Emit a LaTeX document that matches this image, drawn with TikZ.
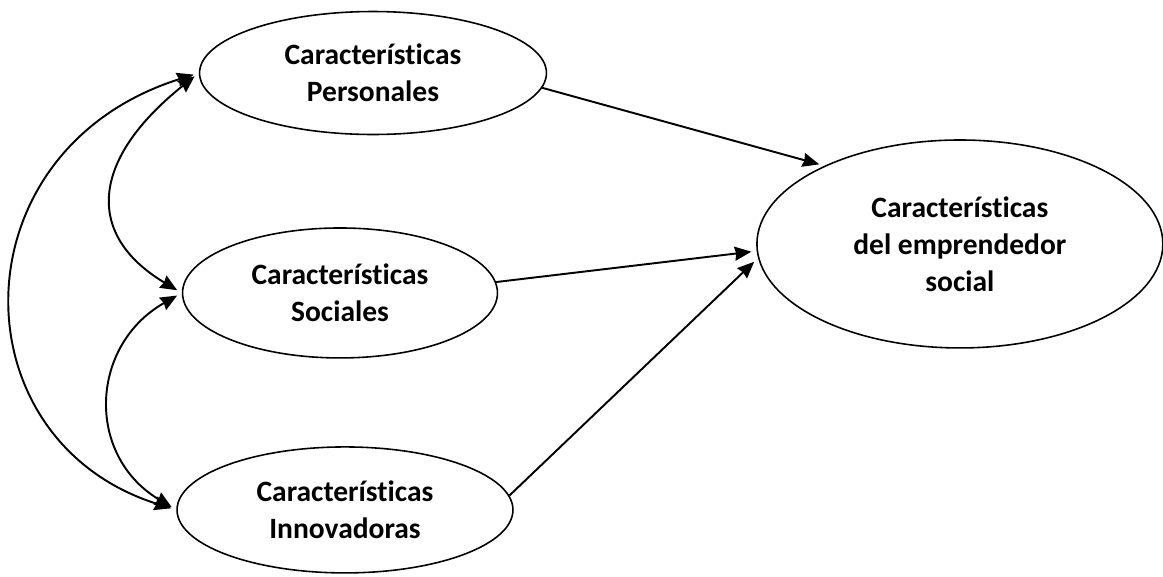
\documentclass[tikz,border=0pt]{standalone}
\usepackage{fontspec}
\setmainfont{Carlito}[Ligatures=NoCommon]
\usetikzlibrary{shapes.geometric, arrows.meta, positioning}
\tikzstyle{trait} = [ellipse, draw=black, line width=0.9pt, inner sep=0pt, align=center, font=\fontsize{16.8}{21}\selectfont\bfseries]
\tikzstyle{arrow} = [line width=1.1pt, -{Stealth[length=9.5pt, width=8pt, inset=0.8pt]}, shorten >=3pt]
\tikzstyle{link} = [line width=1.1pt, {Stealth[length=9.5pt, width=8pt, inset=0.8pt]}-{Stealth[length=9.5pt, width=8pt, inset=0.8pt]}, shorten <=3pt, shorten >=3pt]

\begin{document}
\begin{tikzpicture}[x=0.02cm, y=-0.02cm, node distance=4.4cm]
\useasboundingbox (0,0) rectangle (1163,576);

% Antecedents
\node (personal) [trait, minimum width=6.94cm, minimum height=2.46cm] at (373,73) {Características\\Personales};
\node (social) [trait, below of=personal, xshift=-0.66cm, minimum width=6.3cm, minimum height=2.6cm] {Características\\Sociales};
\node (innovative) [trait, below of=social, xshift=0.1cm, yshift=0.06cm, minimum width=6.72cm, minimum height=2.52cm] {Características\\Innovadoras};

% Outcome
\node (leader) [trait, right of=social, xshift=8cm, yshift=0.98cm, minimum width=8.12cm, minimum height=4.16cm] {Características\\del emprendedor\\social};

% Paths
\draw [arrow] (personal.-5) -- (leader.150);
\draw [arrow] (social.4) -- (leader.182);
\draw [arrow] (innovative.5) -- (leader.184);

% Correlations
\draw [link] (personal.west) .. controls (-45,150) and (-45,440) .. (innovative.west);
\draw [link] (personal.west) .. controls (90,160) and (85,235) .. (social.west);
\draw [link] (social.west) .. controls (90,345) and (85,455) .. (innovative.west);

\end{tikzpicture}
\end{document}
